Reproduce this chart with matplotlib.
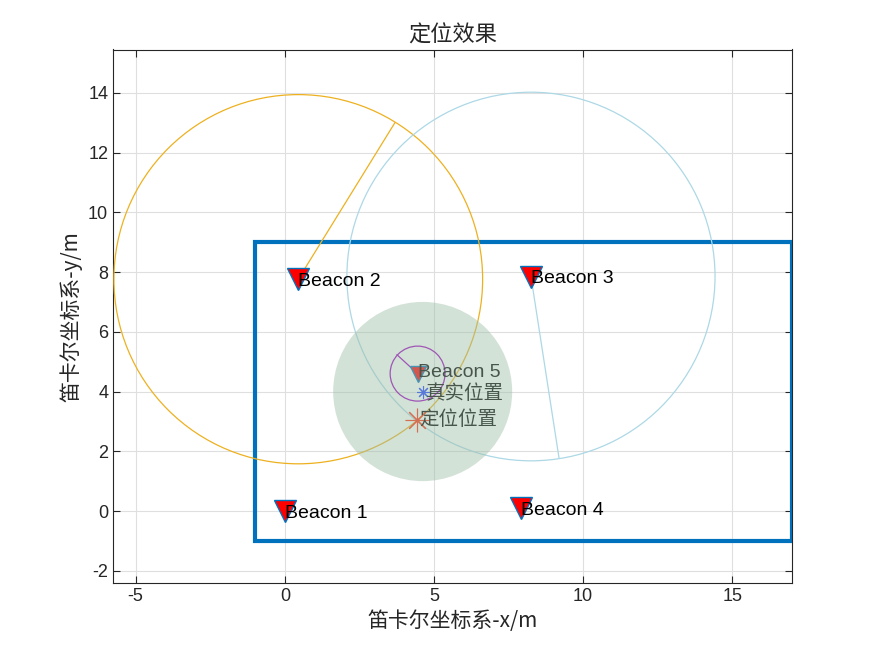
import numpy as np
import matplotlib.pyplot as plt
from matplotlib.patches import Circle, Rectangle

plt.rcParams['font.family'] = ['Liberation Sans', 'Noto Sans CJK SC', 'DejaVu Sans']
plt.rcParams['axes.unicode_minus'] = False

# beacon positions
beacon_names = ['Beacon 1', 'Beacon 2', 'Beacon 3', 'Beacon 4', 'Beacon 5']
beacon_x = [0.0, 0.45, 8.25, 7.9, 4.45]
beacon_y = [0.0, 7.76, 7.85, 0.1, 4.6]

# measured range circles (beacon index, radius, edge point, colour)
ring_idx = [1, 2, 4]
ring_r = [6.18, 6.17, 0.92]
ring_end_x = [3.69, 9.19, 3.76]
ring_end_y = [13.0, 1.78, 5.23]
ring_color = ['#EDB120', '#ADD8E6', '#A000C0']

true_pos = (4.62, 4.0)
est_pos = (4.42, 3.05)
err_radius = 3.0

room_x = [-1, 17]
room_y = [-1, 9]

fig = plt.figure(figsize=(8.75, 6.56), dpi=100)
ax = fig.add_axes([113/875, 1-583/656, (792-113)/875, (583-49.5)/656])

ax.add_patch(Rectangle((room_x[0], room_y[0]), room_x[1]-room_x[0], room_y[1]-room_y[0],
                       fill=False, edgecolor='#0072BD', lw=3, zorder=3))

for i, r, ex, ey, c in zip(ring_idx, ring_r, ring_end_x, ring_end_y, ring_color):
    cx, cy = beacon_x[i], beacon_y[i]
    ax.add_patch(Circle((cx, cy), r, fill=False, edgecolor=c, lw=0.9, zorder=3))
    ax.plot([cx, ex], [cy, ey], color=c, lw=0.9, zorder=3)

ax.plot(beacon_x[:4], beacon_y[:4], 'v', ms=16, mfc='red', mec='#0072BD', mew=1,
        ls='none', zorder=4)
ax.plot(beacon_x[4], beacon_y[4], 'v', ms=11, mfc='red', mec='#0072BD', mew=1,
        ls='none', zorder=4)
for name, x, y in zip(beacon_names[:4], beacon_x[:4], beacon_y[:4]):
    ax.text(x, y - 0.08, name, fontsize=14, va='center', ha='left', zorder=5)
ax.text(beacon_x[4], beacon_y[4] + 0.03, beacon_names[4], fontsize=14, va='center',
        ha='left', zorder=5)

ax.plot(*true_pos, marker=(8, 2, 0), color='#2040FF', ms=9, mew=0.8, ls='none', zorder=4)
ax.plot(*est_pos, marker=(8, 2, 0), color='#FF3010', ms=17, mew=0.8, ls='none', zorder=4)
ax.text(true_pos[0] + 0.1, true_pos[1] - 0.05, '真实位置', fontsize=14, va='center',
        ha='left', family=['Noto Sans CJK SC'], zorder=5)
ax.text(est_pos[0] + 0.1, est_pos[1], '定位位置', fontsize=14, va='center', ha='left',
        family=['Noto Sans CJK SC'], zorder=5)

# error disc drawn over everything
ax.add_patch(Circle(true_pos, err_radius, facecolor=(0.62, 0.75, 0.66), edgecolor='none',
                    alpha=0.45, zorder=6))

ax.set_xlim(-5.76, 17)
ax.set_ylim(-2.41, 15.45)
ax.set_xticks([-5, 0, 5, 10, 15])
ax.set_yticks(np.arange(-2, 15, 2))
ax.grid(True, color='#DFDFDF', lw=0.8)
ax.set_axisbelow(True)
ax.tick_params(direction='in', labelsize=13, colors='#262626', length=5, top=True, right=True,
               labeltop=False, labelright=False)
for s in ax.spines.values():
    s.set_color('#262626')
    s.set_linewidth(0.8)

ax.set_title('定位效果', fontsize=16, family=['Noto Sans CJK SC'], color='#262626')
ax.set_xlabel('笛卡尔坐标系-x/m', fontsize=15, family=['Noto Sans CJK SC', 'Liberation Sans'],
              color='#262626')
ax.set_ylabel('笛卡尔坐标系-y/m', fontsize=15, family=['Noto Sans CJK SC', 'Liberation Sans'],
              color='#262626')

fig.savefig('out.png', dpi=100)
